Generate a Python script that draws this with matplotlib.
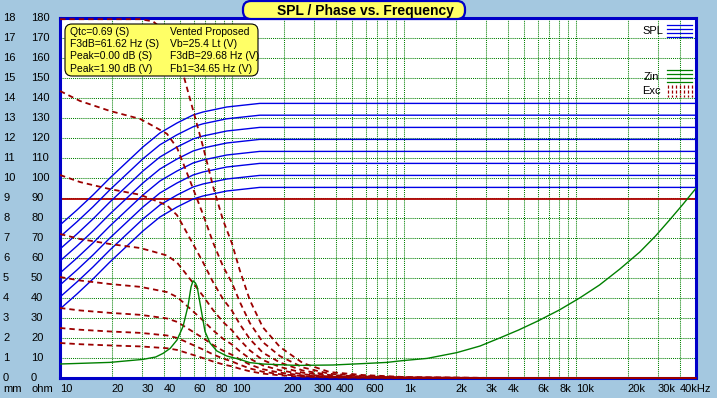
import numpy as np
import matplotlib
matplotlib.use('Agg')
import matplotlib.pyplot as plt
from matplotlib.patches import FancyBboxPatch
from matplotlib.lines import Line2D
import matplotlib.transforms as mtrans

W, H = 717, 398

# ---------------- data ----------------
# SPL: shape of the top curve (display units, 2 px per unit), 8 drive levels
spl_freq = [10, 12.55, 15.55, 19.5, 24.5, 30.35, 38.1, 47.9, 59.4, 67.8, 93.2, 145, 50000]
spl_top = [76.5, 84, 91.5, 100, 108, 115.5, 122.5, 127.5, 131.5, 133, 135.5, 137.3, 137.3]
spl_levels = [137.3, 131.4, 125.3, 119.3, 113.3, 107.3, 101.3, 95.3]

# Cone excursion (mm): shape of curve whose value at 10 Hz is 14.35 mm
exc_freq = [10, 13.07, 19.5, 29.2, 34.7, 41.9, 47.9, 51.9, 59.4, 67.9, 77.6, 88.7,
            100, 111, 127, 151, 190, 258, 370, 576, 1000, 3000, 10000, 50000]
exc_ref = [14.4, 13.9, 13.4, 13.0, 12.65, 12.25, 11.55, 10.8, 9.5, 8.2, 6.8, 5.6,
           4.77, 3.82, 2.76, 1.8, 1.1, 0.53, 0.21, 0.106, 0.035, 0.004, 0.00035, 0.00001]
exc_at_10hz = [20.3, 14.35, 10.15, 7.2, 5.05, 3.5, 2.5, 1.75]
xmax_mm = 8.95

# Impedance (ohm)
zin_freq = [10, 19.5, 30.3, 36, 39.7, 43.7, 47.9, 51.9, 55.5, 57.8, 59.4, 61.3, 62.7,
            65.2, 67.8, 69.7, 74.5, 81.7, 93.2, 111, 127, 151, 239, 386, 610, 796,
            985, 1363, 2030, 2770, 3600, 4640, 6000, 8000, 10500, 13700, 18000, 23500,
            29000, 35000, 42000, 50000]
zin = [7.0, 7.8, 9.3, 10.5, 12.3, 14.8, 19.0, 25.7, 36.0, 45.6, 48.6, 47.5, 45.7,
       37.3, 29.0, 23.2, 17.5, 13.5, 11.0, 9.3, 7.7, 7.0, 6.3, 6.5, 7.3, 7.8,
       8.7, 9.8, 12.7, 16.0, 20.0, 24.0, 28.5, 34.0, 40.0, 46.5, 54.5, 63.0,
       71.0, 79.0, 87.0, 95.0]

x_tick_freqs = [10, 20, 30, 40, 60, 80, 100, 200, 300, 400, 600, 1000, 2000, 3000,
                4000, 6000, 8000, 10000, 20000, 30000, 40000]
x_tick_labels = ['10', '20', '30', '40', '60', '80', '100', '200', '300', '400', '600',
                 '1k', '2k', '3k', '4k', '6k', '8k', '10k', '20k', '30k', '40kHz']
y_ohm_ticks = list(range(0, 181, 10))
y_mm_labels = [str(v // 10) for v in y_ohm_ticks]

info_left = ['Qtc=0.69 (S)', 'F3dB=61.62 Hz (S)', 'Peak=0.00 dB (S)', 'Peak=1.90 dB (V)']
info_right = ['Vented Proposed', 'Vb=25.4 Lt (V)', 'F3dB=29.68 Hz (V)', 'Fb1=34.65 Hz (V)']
title = 'SPL / Phase vs. Frequency'

# ---------------- styles ----------------
BG = '#A4C8E0'
FRAME = '#0000C8'
GRID = '#008000'
RED = '#9B0000'
BLUE = '#0000E6'
GREEN = '#008000'
YELLOW = '#FFFF66'
FONT = 'Liberation Sans'
plt.rcParams['font.family'] = [FONT, 'DejaVu Sans']

fig = plt.figure(figsize=(W / 100, H / 100), dpi=100, facecolor=BG)
L, R, T, B = 60, 696.2, 18, 378
ax = fig.add_axes([L / W, (H - B) / H, (R - L) / W, (B - T) / H])
ax.set_facecolor('white')
ax.set_xscale('log')
ax.set_xlim(10, 50000)
ax.set_ylim(0, 180)
ax.set_xticks([]); ax.set_yticks([])
ax.minorticks_off()
ax.tick_params(which='both', length=0, labelbottom=False, labelleft=False)
for s in ax.spines.values():
    s.set_color(FRAME)
    s.set_linewidth(2.2)

# pixel transform (origin top-left of figure)
px = mtrans.Affine2D().scale(1 / W, -1 / H).translate(0, 1) + fig.transFigure

# grid
for v in range(10, 180, 10):
    ax.axhline(v, color=GRID, lw=0.75, ls=(0, (1, 1)), zorder=1)
grid_f = [m * d for d in (10, 100, 1000, 10000) for m in range(1, 10)
          if 10 < m * d <= 40000]
for f in grid_f:
    ax.axvline(f, color=GRID, lw=0.75, ls=(0, (1, 1)), zorder=1)

# Xmax line
ax.axhline(xmax_mm * 10, color='#B00000', lw=1.3, zorder=2)

# SPL curves
spl_top_arr = np.array(spl_top)
for lvl in spl_levels:
    ax.plot(spl_freq, spl_top_arr - spl_levels[0] + lvl, color=BLUE, lw=1.0, zorder=3)

# excursion curves
exc_ref_arr = np.array(exc_ref)
for e10 in exc_at_10hz:
    y = np.clip(exc_ref_arr * (e10 / exc_ref[0]) * 10, 0, 179.4)
    ax.plot(exc_freq, y, color=RED, lw=1.3, ls=(0, (3, 2.2)), zorder=4, clip_on=False)

# impedance
ax.plot(zin_freq, zin, color=GREEN, lw=1.0, zorder=5)

# axis labels
fs = 8.0
fsi = 7.5
btr = mtrans.blended_transform_factory(ax.transData, px)
for f, lab in zip(x_tick_freqs, x_tick_labels):
    ax.text(f, 389, lab, transform=btr, ha='left', va='center', fontsize=fs, clip_on=False)
ytr = mtrans.blended_transform_factory(px, ax.transData)
for v, mm in zip(y_ohm_ticks, y_mm_labels):
    ax.text(3, v, mm, transform=ytr, ha='left', va='center', fontsize=fs, clip_on=False)
    ax.text(31, v, str(v), transform=ytr, ha='left', va='center', fontsize=fs, clip_on=False)
ax.text(3, 389, 'mm', transform=px, ha='left', va='center', fontsize=fs)
ax.text(31, 389, 'ohm', transform=px, ha='left', va='center', fontsize=fs)

# info box
box = FancyBboxPatch((65, 24), 193, 52, boxstyle='round,pad=0,rounding_size=7',
                     transform=px, facecolor=YELLOW, edgecolor='black', lw=0.8, zorder=6)
fig.add_artist(box)
for i, (a, b) in enumerate(zip(info_left, info_right)):
    yy = 31.7 + i * 12.3
    fig.text(70, yy, a, transform=px, ha='left', va='center', fontsize=fsi, zorder=7)
    fig.text(170, yy, b, transform=px, ha='left', va='center', fontsize=fsi, zorder=7)

# title box
tbox = FancyBboxPatch((243, 1), 222, 18, boxstyle='round,pad=0,rounding_size=8',
                      transform=px, facecolor=YELLOW, edgecolor=FRAME, lw=1.6, zorder=6)
fig.add_artist(tbox)
fig.text(365, 10.5, title, transform=px, ha='center', va='center', fontsize=10,
         fontweight='bold', zorder=7)

# legend
fig.text(663, 31, 'SPL', transform=px, ha='right', va='center', fontsize=fs)
for yy in (25, 29, 33, 37):
    fig.add_artist(Line2D([667, 692], [yy, yy], transform=px, color=BLUE, lw=0.9))
fig.text(659, 77, 'Zin', transform=px, ha='right', va='center', fontsize=fs)
for yy in (70, 74, 78, 82):
    fig.add_artist(Line2D([667, 692], [yy, yy], transform=px, color=GREEN, lw=0.9))
fig.text(661, 91, 'Exc', transform=px, ha='right', va='center', fontsize=fs)
for xx in (668, 672, 676, 680, 684, 688, 692):
    fig.add_artist(Line2D([xx, xx], [85, 97], transform=px, color=RED, lw=0.9,
                          ls=(0, (2.5, 1.5))))

fig.savefig('out.png', dpi=100, facecolor=BG)
